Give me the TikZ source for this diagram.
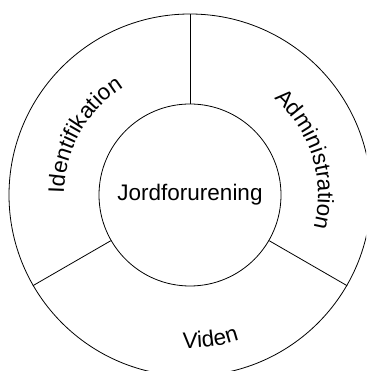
\documentclass[tikz,border=0pt]{standalone}
\usepackage{fontspec}
\setmainfont{Liberation Sans}
\usetikzlibrary{decorations.text,calc}
\newcommand\ringfont{\fontsize{22.5}{27}\selectfont}
\tikzset{
  ring/.style={circle, draw, line width=0.8pt, inner sep=0pt},
  divider/.style={line width=0.8pt},
  ringtext/.style={decorate, decoration={text along path, text align=center,
      text format delimiters={|}{|}, text={|\ringfont|#1}}}
}
\begin{document}
\begin{tikzpicture}[x=1pt, y=1pt]
  \useasboundingbox (0,0) rectangle (366,371);
  \clip (0,0) rectangle (366,371);
  \coordinate (c) at (190,176);
  % outer ring and centre disc
  \node[ring, minimum size=362pt] (outer) at (c) {};
  \node[ring, minimum size=182pt, font=\ringfont] (inner) at (c) {Jordforurening};
  % three sector dividers
  \draw[divider] (inner.90) -- (outer.90);
  \draw[divider] (inner.210) -- (outer.210);
  \draw[divider] (inner.330) -- (outer.330);
  % sector labels set along arcs
  \path[ringtext=Identifikation] ($(c)+(200.5:126)$) arc[start angle=200.5, end angle=100.5, radius=126];
  \path[ringtext=Administration] ($(c)+(67:128)$) arc[start angle=67, end angle=-33, radius=128];
  \path[ringtext=Viden] ($(c)+(-120:153)$) arc[start angle=-120, end angle=-44, radius=153];
\end{tikzpicture}
\end{document}
